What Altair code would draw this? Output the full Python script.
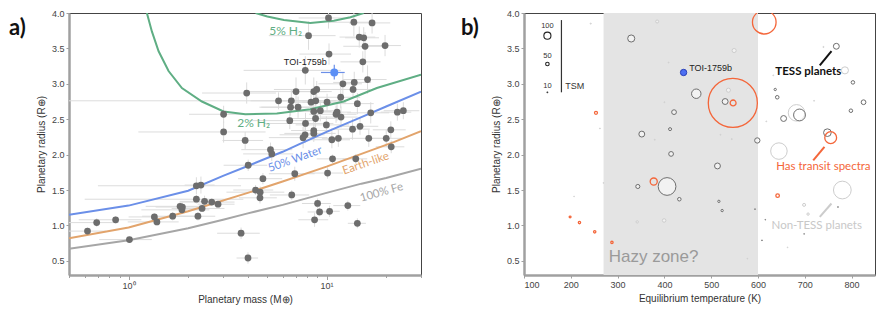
import altair as alt
import pandas as pd

# ---------------- panel a: mass-radius ----------------
mass = [0.62, 0.69, 0.86, 1.01, 1.35, 1.39, 1.67, 1.82, 1.87, 1.86, 2.20, 2.32, 2.20, 2.42, 2.63, 2.83, 2.35, 2.24,
        3.70, 4.01, 4.02, 4.77, 4.38, 4.62, 4.61, 6.67, 6.91, 9.01, 9.22, 10.36, 8.70, 12.81, 14.31, 10.12, 10.72,
        14.05, 21.22, 5.21, 5.29, 3.88, 3.02, 3.02, 3.95, 5.72, 6.64, 6.58, 7.18, 7.01, 8.35, 8.82, 8.62, 8.92,
        10.06, 11.79, 14.31, 8.62, 9.30, 11.17, 11.30, 11.83, 8.80, 6.52, 7.83, 16.72, 22.79, 24.43, 8.62, 8.62,
        9.98, 7.79, 7.61, 10.64, 11.47, 13.53, 14.76, 21.12, 16.34, 20.02, 10.23, 13.74, 16.98, 8.11, 14.63, 15.41,
        15.65, 19.75, 10.29, 15.25, 7.81, 16.11, 12.09, 13.80, 13.61]
radius = [0.92, 1.04, 1.08, 0.80, 1.12, 1.05, 1.13, 1.27, 1.26, 1.22, 1.56, 1.57, 1.37, 1.34, 1.33, 1.30, 1.24, 1.13,
          0.89, 0.54, 1.85, 1.66, 1.50, 1.47, 1.39, 1.43, 1.73, 1.31, 1.19, 1.20, 1.08, 1.28, 1.03, 1.74, 1.94,
          1.94, 2.11, 2.07, 2.01, 2.20, 2.32, 2.57, 2.87, 2.76, 2.76, 2.67, 2.67, 2.89, 2.74, 2.76, 2.89, 2.92,
          2.74, 2.81, 2.72, 2.61, 2.62, 2.57, 2.60, 2.53, 2.51, 2.48, 2.44, 2.59, 2.60, 2.62, 2.34, 2.30,
          2.42, 2.28, 2.24, 2.21, 2.23, 2.36, 2.40, 2.35, 2.23, 2.23, 3.93, 3.87, 3.86, 3.68, 3.66, 3.65,
          3.53, 3.54, 3.42, 3.31, 3.19, 3.06, 3.00, 3.02, 2.92]
mass_err = [0.15, 0.2, 0.3, 0.3, 0.35, 0.4, 0.5, 0.6, 0.5, 0.7, 1.5, 0.4, 1.6, 0.6, 0.8, 0.6, 0.7, 0.5,
            0.9, 0.5, 1.0, 1.2, 1.0, 1.5, 1.0, 1.5, 1.8, 1.5, 1.2, 1.3, 1.5, 2.0, 1.5, 2.0, 1.8,
            2.0, 3.5, 1.5, 1.5, 0.9, 1.9, 1.0, 1.6, 5.5, 2.5, 2.0, 2.5, 3.0, 2.0, 3.0, 2.0, 3.5,
            2.5, 3.0, 3.0, 2.0, 2.5, 3.0, 2.0, 2.5, 2.5, 2.5, 3.0, 4.0, 4.0, 5.0, 2.0, 2.5,
            3.0, 2.0, 2.5, 2.5, 2.0, 3.0, 3.5, 4.0, 3.0, 4.0, 3.0, 3.5, 4.0, 3.0, 3.0, 3.0,
            3.5, 4.0, 3.0, 3.5, 4.0, 4.0, 3.0, 3.0, 3.0]
radius_err = [0.05, 0.06, 0.05, 0.04, 0.05, 0.05, 0.06, 0.07, 0.06, 0.06, 0.12, 0.12, 0.06, 0.08, 0.05, 0.05, 0.05, 0.06,
              0.08, 0.08, 0.08, 0.08, 0.07, 0.08, 0.08, 0.07, 0.10, 0.07, 0.06, 0.08, 0.10, 0.07, 0.07, 0.08, 0.06,
              0.07, 0.09, 0.10, 0.10, 0.12, 0.15, 0.12, 0.15, 0.12, 0.15, 0.12, 0.15, 0.20, 0.15, 0.15, 0.20, 0.12,
              0.12, 0.15, 0.15, 0.12, 0.15, 0.12, 0.12, 0.15, 0.12, 0.12, 0.15, 0.15, 0.12, 0.12, 0.12, 0.12,
              0.12, 0.12, 0.15, 0.12, 0.12, 0.15, 0.12, 0.12, 0.12, 0.12, 0.15, 0.20, 0.15, 0.20, 0.15, 0.15,
              0.20, 0.15, 0.15, 0.15, 0.20, 0.20, 0.15, 0.15, 0.12]

toi_mass = [10.94]
toi_radius = [3.16]
toi_mass_lo = [9.37]
toi_mass_hi = [12.35]
toi_r_lo = [3.06]
toi_r_hi = [3.27]

fe_m = [0.5, 1.0, 2.0, 3.0, 4.0, 6.0, 10.0, 15.0, 20.0, 30.0]
fe_r = [0.67, 0.79, 0.96, 1.08, 1.17, 1.29, 1.46, 1.59, 1.67, 1.80]
earth_m = [0.5, 1.0, 2.0, 4.0, 6.0, 10.0, 15.0, 22.0, 30.0]
earth_r = [0.82, 0.97, 1.20, 1.46, 1.62, 1.83, 2.01, 2.18, 2.33]
water_m = [0.5, 1.0, 2.0, 3.0, 4.0, 6.0, 7.2, 10.0, 15.0, 20.0, 30.0]
water_r = [1.15, 1.28, 1.49, 1.70, 1.84, 2.04, 2.14, 2.32, 2.53, 2.68, 2.89]
h2_2_m = [1.237, 1.311, 1.418, 1.592, 1.859, 2.346, 3.018, 3.886, 5.61, 8.27, 12.19, 17.95, 30.0]
h2_2_r = [4.00, 3.74, 3.46, 3.18, 2.94, 2.75, 2.61, 2.57, 2.58, 2.64, 2.75, 2.94, 3.13]
h2_5_m = [4.38, 5.02, 6.09, 8.28, 10.88, 13.2, 15.4]
h2_5_r = [4.00, 3.95, 3.90, 3.86, 3.89, 3.94, 4.00]

# ---------------- panel b: Teq-radius ----------------
non_T = [242.6, 384.5, 262.3, 379.4, 400.0, 549.0, 409.0, 536.8, 519.8, 544.0, 644.7, 739.8, 785.7, 632.6, 719.8,
         682.3, 617.7, 207.0, 269.6, 341.9, 399.4, 698.5, 707.0, 780.2, 663.2, 577.2]
non_R = [3.85, 3.88, 2.37, 2.21, 2.74, 3.47, 3.30, 2.91, 2.28, 2.22, 2.05, 3.52, 3.19, 3.12, 2.76,
         2.59, 2.47, 1.41, 1.60, 1.05, 1.07, 1.29, 1.16, 1.50, 0.69, 0.53]
non_TSM = [15, 42, 12, 12, 12, 58, 12, 58, 12, 12, 233, 15, 100, 12, 12,
           233, 12, 10, 10, 33, 50, 42, 33, 250, 10, 10]
tess_T = [329.1, 351.7, 468.1, 529.8, 420.6, 412.1, 414.3, 598.5, 767.4, 802.8, 636.8, 641.1, 825.5, 798.5,
          688.7, 654.7, 748.3, 343.2, 405.7, 431.9, 513.4, 516.4, 523.4, 593.6, 615.5, 608.5, 770.9, 698.5]
tess_R = [3.64, 2.29, 2.86, 2.75, 2.60, 2.36, 2.01, 2.20, 3.53, 3.02, 2.92, 2.81, 2.74, 2.62,
          2.56, 2.51, 2.31, 1.55, 1.55, 1.37, 1.84, 1.34, 1.21, 1.23, 1.08, 0.79, 1.26, 0.88]
tess_TSM = [100, 83, 133, 83, 67, 42, 67, 75, 83, 50, 33, 50, 67, 50,
            167, 83, 108, 58, 250, 50, 83, 33, 33, 12, 10, 12, 12, 10]
spec_T = [253.8, 613.4, 546.8, 546.2, 755.3, 377.2, 198.5, 218.5, 251.1, 287.9, 641.9]
spec_R = [2.59, 3.87, 2.73, 2.73, 2.24, 1.62, 1.12, 1.04, 0.91, 0.76, 1.42]
spec_TSM = [42, 333, 83, 692, 167, 100, 25, 33, 33, 33, 50]
toi_T = [441.0]
toi_R = [3.16]
toi_TSM = [90]

leg_T = [150, 150, 150]
leg_R = [3.68, 3.28, 2.88]
leg_TSM = [100, 50, 10]
leg_label_R = [3.82, 3.39, 2.97]
leg_labels = ["100", "50", "10"]

hazy_lo = [270]
hazy_hi = [600]

# ---------------- styling ----------------
FONT = "Liberation Sans"
ANN = "Lato"
W_A, W_B, H = 352, 351, 262
GREEN = "#5fae84"
BLUE = "#6b8fe8"
ORANGE = "#e2a46c"
FEGRAY = "#a6a6a6"
PTGRAY = "#6d6d6d"
RED = "#f4663a"

ys = alt.Scale(domain=[0.3, 4.0], nice=False, zero=False)
y_axis = alt.Axis(values=[0.5, 1.0, 1.5, 2.0, 2.5, 3.0, 3.5, 4.0], format=".1f", titlePadding=5)
YT = "Planetary radius (R⊕)"

xs_a = alt.Scale(type="log", domain=[0.5, 30], nice=False)
xa_vals = [0.5, 0.6, 0.7, 0.8, 0.9, 1, 2, 3, 4, 5, 6, 7, 8, 9, 10, 20, 30]
x_axis_a = alt.Axis(values=xa_vals,
                    labelExpr="datum.value == 1 ? '10⁰' : (datum.value == 10 ? '10¹' : '')",
                    tickSize={"condition": {"test": "datum.value == 1 || datum.value == 10", "value": 4.5},
                              "value": 2.5},
                    titlePadding=4)
XTA = "Planetary mass (M⊕)"

xs_b = alt.Scale(domain=[100, 850], nice=False, zero=False)
x_axis_b = alt.Axis(values=[100, 200, 300, 400, 500, 600, 700, 800], titlePadding=4)
XTB = "Equilibrium temperature (K)"


def xa(f):
    return alt.X(f, type="quantitative", scale=xs_a, axis=x_axis_a, title=XTA)


def xb(f):
    return alt.X(f, type="quantitative", scale=xs_b, axis=x_axis_b, title=XTB)


def yy(f):
    return alt.Y(f, type="quantitative", scale=ys, axis=y_axis, title=YT)


# ----- panel a layers -----
pts = pd.DataFrame({"mass": mass, "radius": radius, "me": mass_err, "re": radius_err})
pts["lo"] = (pts["mass"] - pts["me"]).clip(lower=0.5)
pts["hi"] = (pts["mass"] + pts["me"]).clip(upper=30)
pts["rlo"] = pts["radius"] - pts["re"]
pts["rhi"] = (pts["radius"] + pts["re"]).clip(upper=4.0)

herr = alt.Chart(pts).mark_rule(color="#dcdcdc", strokeWidth=1, clip=True).encode(
    x=xa("lo"), x2="hi", y=yy("radius"))
verr = alt.Chart(pts).mark_rule(color="#dcdcdc", strokeWidth=1, clip=True).encode(
    x=xa("mass"), y=yy("rlo"), y2="rhi")


def curve(m, r, color):
    return alt.Chart(pd.DataFrame({"mass": m, "radius": r})).mark_line(
        color=color, strokeWidth=2, clip=True).encode(x=xa("mass"), y=yy("radius"))


curves = [curve(fe_m, fe_r, FEGRAY), curve(earth_m, earth_r, ORANGE), curve(water_m, water_r, BLUE),
          curve(h2_2_m, h2_2_r, GREEN), curve(h2_5_m, h2_5_r, GREEN)]

dots = alt.Chart(pts).mark_circle(color=PTGRAY, opacity=1, size=46, clip=True).encode(
    x=xa("mass"), y=yy("radius"))

toi = pd.DataFrame({"mass": toi_mass, "radius": toi_radius, "lo": toi_mass_lo, "hi": toi_mass_hi,
                    "rlo": toi_r_lo, "rhi": toi_r_hi})
toi_h = alt.Chart(toi).mark_rule(color=BLUE, strokeWidth=1.2).encode(x=xa("lo"), x2="hi", y=yy("radius"))
toi_v = alt.Chart(toi).mark_rule(color=BLUE, strokeWidth=1.2).encode(x=xa("mass"), y=yy("rlo"), y2="rhi")
toi_pt = alt.Chart(toi).mark_circle(color="#5b8ff5", opacity=1, size=64).encode(x=xa("mass"), y=yy("radius"))


def label_a(text, m, r, color, size=11.5, angle=0, font=ANN, weight="normal"):
    return alt.Chart(pd.DataFrame({"mass": [m], "radius": [r], "t": [text]})).mark_text(
        color=color, fontSize=size, angle=angle, font=font, fontWeight=weight,
        align="center", baseline="middle").encode(x=xa("mass"), y=yy("radius"), text="t")


labels_a = [
    label_a("5% H₂", 6.21, 3.74, GREEN, 12),
    label_a("2% H₂", 4.28, 2.44, GREEN, 12),
    label_a("50% Water", 6.95, 1.93, BLUE, 11.5, 340),
    label_a("Earth-like", 15.8, 1.87, ORANGE, 11.5, 341),
    label_a("100% Fe", 19.0, 1.46, FEGRAY, 11.5, 344),
    label_a("TOI-1759b", 7.81, 3.31, "#222222", 9, 0, FONT),
]

tag_a = alt.Chart(pd.DataFrame({"t": ["a)"]})).mark_text(
    align="left", baseline="middle", fontSize=22, font=ANN, fontWeight="bold", color="#111").encode(
    x=alt.value(-60), y=alt.value(15), text="t")

panel_a = alt.layer(herr, verr, *curves, dots, toi_h, toi_v, toi_pt, *labels_a, tag_a).properties(
    width=W_A, height=H)

# ----- panel b layers -----
size_scale = alt.Scale(type="pow", exponent=2, domain=[0, 100], range=[0, 50.3])

haze = alt.Chart(pd.DataFrame({"lo": hazy_lo, "hi": hazy_hi})).mark_rect(color="#e4e4e4").encode(
    x=xb("lo"), x2="hi", y=alt.value(0), y2=alt.value(H))


def circles(T, R, S, stroke, fill, fill_op, sw=1.0):
    df = pd.DataFrame({"T": T, "R": R, "TSM": S})
    return alt.Chart(df).mark_point(shape="circle", filled=False, stroke=stroke, strokeWidth=sw,
                                    fill=fill, fillOpacity=fill_op, opacity=1, clip=True).encode(
        x=xb("T"), y=yy("R"), size=alt.Size("TSM:Q", scale=size_scale, legend=None))


c_non = circles(non_T, non_R, non_TSM, "#cdcdcd", "#ffffff", 0.5)
c_tess = circles(tess_T, tess_R, tess_TSM, "#6e6e6e", "#ffffff", 0.5)
c_spec = circles(spec_T, spec_R, spec_TSM, RED, "#ffffff", 0.0, 1.3)
c_toi = alt.Chart(pd.DataFrame({"T": toi_T, "R": toi_R, "TSM": toi_TSM})).mark_point(
    shape="circle", filled=True, fill="#4d6ff2", stroke="#2940b8", strokeWidth=1, opacity=1).encode(
    x=xb("T"), y=yy("R"), size=alt.Size("TSM:Q", scale=size_scale, legend=None))

leg_df = pd.DataFrame({"T": leg_T, "R": leg_R, "TSM": leg_TSM, "lr": leg_label_R, "lab": leg_labels})
leg_c = alt.Chart(leg_df).mark_point(shape="circle", filled=False, stroke="#222", strokeWidth=1.1,
                                     opacity=1).encode(
    x=xb("T"), y=yy("R"), size=alt.Size("TSM:Q", scale=size_scale, legend=None))
leg_t = alt.Chart(leg_df).mark_text(font=FONT, fontSize=7.5, color="#333").encode(
    x=xb("T"), y=yy("lr"), text="lab")
leg_line = alt.Chart(pd.DataFrame({"T": [180], "r1": [3.90], "r2": [2.88]})).mark_rule(
    color="#333", strokeWidth=1.2).encode(x=xb("T"), y=yy("r1"), y2="r2")


def label_b(text, T, R, color, size, font=ANN, weight="normal", align="left"):
    return alt.Chart(pd.DataFrame({"T": [T], "R": [R], "t": [text]})).mark_text(
        color=color, fontSize=size, font=font, fontWeight=weight, align=align, baseline="middle").encode(
        x=xb("T"), y=yy("R"), text="t")


def seg(T1, R1, T2, R2, color):
    return alt.Chart(pd.DataFrame({"T": [T1], "T2": [T2], "R": [R1], "R2": [R2]})).mark_rule(
        color=color, strokeWidth=2).encode(x=xb("T"), x2="T2", y=yy("R"), y2="R2")


labels_b = [
    label_b("TSM", 188, 2.97, "#333", 9, FONT),
    label_b("Hazy zone?", 281, 0.55, "#9a9a9a", 17, FONT),
    label_b("TOI-1759b", 453, 3.23, "#222", 9, FONT),
    label_b("TESS planets", 637, 3.16, "#111", 11.5, ANN, "bold"),
    label_b("Has transit spectra", 639, 1.83, RED, 11.5, ANN),
    label_b("Non-TESS planets", 629, 0.99, "#c8c8c8", 11.5, ANN),
]
segs = [seg(732, 3.26, 757, 3.46, "#111"), seg(718, 1.92, 742, 2.11, RED),
        seg(732, 1.12, 757, 1.31, "#cccccc")]

tag_b = alt.Chart(pd.DataFrame({"t": ["b)"]})).mark_text(
    align="left", baseline="middle", fontSize=22, font=ANN, fontWeight="bold", color="#111").encode(
    x=alt.value(-63), y=alt.value(15), text="t")

panel_b = alt.layer(haze, c_non, c_tess, c_spec, c_toi, leg_c, leg_t, leg_line, *segs, *labels_b,
                    tag_b).properties(width=W_B, height=H)

chart = alt.hconcat(panel_a, panel_b, spacing=38).properties(
    padding={"left": 0, "top": 0, "right": 0, "bottom": 0}
).configure_view(stroke="#444", strokeWidth=1).configure_axis(
    labelFont=FONT, labelFontSize=9, labelColor="#444", titleFont=FONT, titleFontSize=10,
    titleFontWeight="normal", titleColor="#333", domainColor="#a0a0a0", domainWidth=2.5,
    tickColor="#a0a0a0", tickSize=3, labelPadding=2, grid=False)

chart.save("out.html", embed_options={"renderer": "svg", "actions": False})
